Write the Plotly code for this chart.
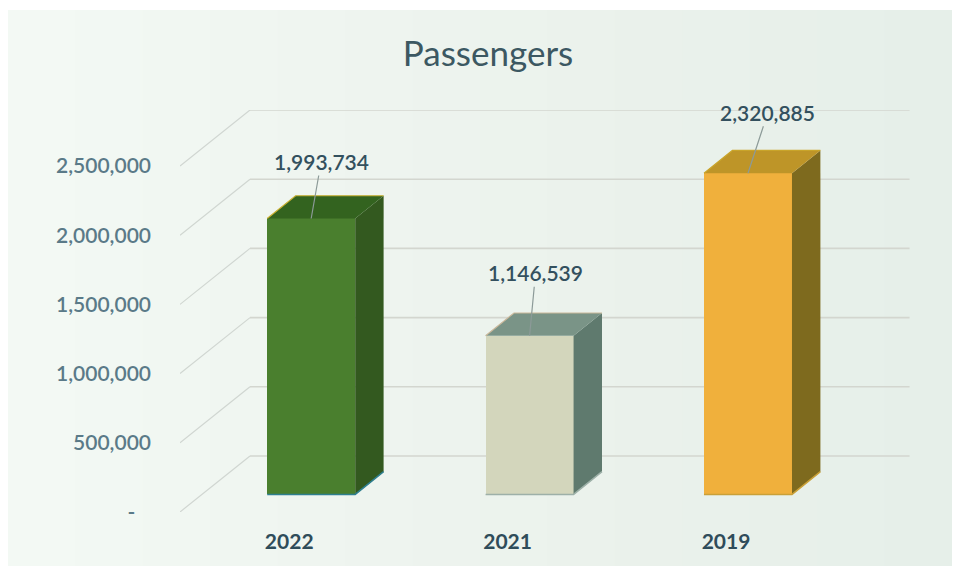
import plotly.graph_objects as go

# Data
years = ["2022", "2021", "2019"]
passengers = [1993734, 1146539, 2320885]
tick_values = [0, 500000, 1000000, 1500000, 2000000, 2500000]
tick_labels = ["-\u00a0\u00a0\u00a0", "500,000", "1,000,000", "1,500,000", "2,000,000", "2,500,000"]
label_texts = ["1,993,734", "1,146,539", "2,320,885"]

# Style
front_colors = ["#4A7F2E", "#D3D6BC", "#F0B03C"]
side_colors = ["#33591F", "#5F7A6E", "#7E6A1E"]
top_colors = ["#33631F", "#7A9487", "#BE9528"]
rim_colors = ["#C9B030", "#C9B79A", "#C9A42A"]
base_colors = ["#2F7F8F", "#9DB0A8", "#C9A038"]
label_shift = [(10, -57), (6, -63), (20, -61)]

# The page has an 8 px body margin, so pixel positions are offset by it.
ORG = 8
W, H = 952 - ORG, 572 - ORG
X0, X1, Y0, Y1 = 180 - ORG, 910 - ORG, 110 - ORG, 512 - ORG
PX_X = 218.4
PX_Y = 346 / 2500000
DX = 70 / PX_X
DY = 56 / PX_Y
BAR_W = 88 / PX_X
F_FRONT, F_BACK = 0.314, 0.72
x_range = [-0.5, -0.5 + (X1 - X0) / PX_X]
y_range = [0, (Y1 - Y0) / PX_Y]


def proj(x, v, depth):
    return x + depth * DX, v + depth * DY


def paper_x(px):
    return (px - X0) / (X1 - X0)


def paper_y(px):
    return (Y1 - px) / (Y1 - Y0)


fig = go.Figure()
xs = list(range(len(years)))

# Background bands
shapes = []
stops = [(243, 249, 244), (236, 243, 237), (230, 239, 233)]
n = 14
for i in range(n):
    t = i / (n - 1) * 2
    k = min(int(t), 1)
    u = t - k
    c = [round(stops[k][j] + (stops[k + 1][j] - stops[k][j]) * u) for j in range(3)]
    shapes.append(dict(type="rect", xref="paper", yref="paper", layer="below",
                       x0=paper_x(W * i / n), x1=paper_x(W * (i + 1) / n + 1),
                       y0=paper_y(566 - ORG), y1=paper_y(10 - ORG), line_width=0,
                       fillcolor=f"rgb({c[0]},{c[1]},{c[2]})"))
x_back_end = 2.52
for v in tick_values:
    x_a, y_a = proj(-0.5, v, 0)
    x_b, y_b = proj(-0.5, v, 1)
    x_c, y_c = proj(x_back_end, v, 1)
    shapes.append(dict(type="line", xref="x", yref="y", layer="below", x0=x_a, y0=y_a, x1=x_b, y1=y_b,
                       line=dict(color="#D0D6D1", width=1.2)))
    shapes.append(dict(type="line", xref="x", yref="y", layer="below", x0=x_b, y0=y_b, x1=x_c, y1=y_c,
                       line=dict(color="#D3D6CF", width=1.6)))

# Front faces
fig.add_trace(go.Bar(
    x=[proj(x, 0, F_FRONT)[0] for x in xs],
    y=passengers,
    base=[F_FRONT * DY] * 3,
    width=BAR_W,
    marker=dict(color=front_colors, line_width=0),
    showlegend=False, hoverinfo="skip",
))

# Side and top faces derived from the values
for x, v, sc, tc, rc, bc in zip(xs, passengers, side_colors, top_colors, rim_colors, base_colors):
    lf = x - BAR_W / 2
    rt = x + BAR_W / 2
    side = [proj(rt, 0, F_FRONT), proj(rt, 0, F_BACK), proj(rt, v, F_BACK), proj(rt, v, F_FRONT), proj(rt, 0, F_FRONT)]
    top = [proj(lf, v, F_FRONT), proj(rt, v, F_FRONT), proj(rt, v, F_BACK), proj(lf, v, F_BACK), proj(lf, v, F_FRONT)]
    fig.add_trace(go.Scatter(x=[p[0] for p in side], y=[p[1] for p in side], mode="lines", fill="toself",
                             fillcolor=sc, line=dict(width=0, color=sc), showlegend=False, hoverinfo="skip"))
    fig.add_trace(go.Scatter(x=[p[0] for p in top], y=[p[1] for p in top], mode="lines", fill="toself",
                             fillcolor=tc, line=dict(width=0, color=tc), showlegend=False, hoverinfo="skip"))
    rim = [proj(lf, v, F_FRONT), proj(lf, v, F_BACK), proj(rt, v, F_BACK)]
    fig.add_trace(go.Scatter(x=[p[0] for p in rim], y=[p[1] for p in rim], mode="lines",
                             line=dict(width=1.2, color=rc), showlegend=False, hoverinfo="skip"))
    base = [proj(lf, 0, F_FRONT), proj(rt, 0, F_FRONT), proj(rt, 0, F_BACK)]
    fig.add_trace(go.Scatter(x=[p[0] for p in base], y=[p[1] for p in base], mode="lines",
                             line=dict(width=1.5, color=bc), showlegend=False, hoverinfo="skip"))

# Data labels with leader lines
annotations = []
for x, v, text, (ax, ay) in zip(xs, passengers, label_texts, label_shift):
    px, py = proj(x, v, F_FRONT)
    annotations.append(dict(
        x=px, y=py, xref="x", yref="y", text=text, showarrow=True, arrowhead=0, arrowwidth=1.2,
        arrowcolor="#8C9A98", ax=ax, ay=ay, standoff=0, startstandoff=0,
        font=dict(family="Lato", size=21, color="#33505E", weight=600),
    ))

fig.update_layout(
    width=W, height=H,
    margin=dict(l=X0, r=W - X1, t=Y0, b=H - Y1, autoexpand=False),
    paper_bgcolor="#FFFFFF", plot_bgcolor="rgba(0,0,0,0)",
    title=dict(text="Passengers", x=(488 - ORG) / W, xanchor="center", y=1 - (54 - ORG) / H, yanchor="middle",
               font=dict(family="Lato", size=35, color="#3C5862")),
    xaxis=dict(range=x_range, tickmode="array", tickvals=xs, ticktext=years, showgrid=False, zeroline=False,
               showline=False, ticks="", ticklabelstandoff=15,
               tickfont=dict(family="Lato", size=21, color="#2F4C5A", weight=700)),
    yaxis=dict(range=y_range, tickmode="array", tickvals=tick_values, ticktext=tick_labels, showgrid=False,
               zeroline=False, showline=False, ticks="", ticklabelstandoff=28,
               tickfont=dict(family="Lato", size=21, color="#5A7A88", weight=600)),
    shapes=shapes, annotations=annotations, bargap=0,
)
fig.write_html("out.html", post_script="document.body.style.marginRight='0';")
